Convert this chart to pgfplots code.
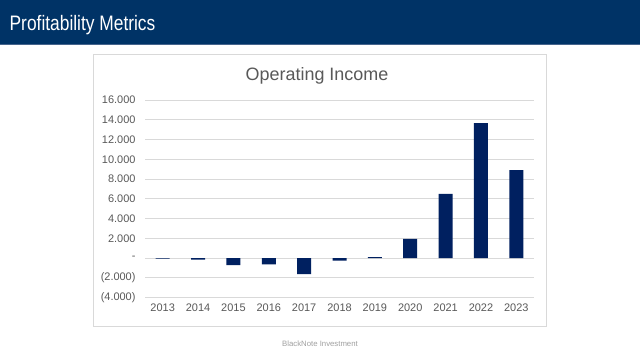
\documentclass[border=0pt]{standalone}
\usepackage{pgfplots}
\pgfplotsset{compat=1.18}
\usepackage{fontspec}
\setmainfont{Liberation Sans}
\definecolor{hdr}{RGB}{0,51,102}
\definecolor{hdrline}{RGB}{70,100,140}
\definecolor{barc}{RGB}{0,32,96}
\definecolor{gridc}{RGB}{217,217,217}
\definecolor{tickc}{RGB}{89,89,89}
\definecolor{footc}{RGB}{160,160,160}
\begin{document}
\begin{tikzpicture}[x=1bp,y=1bp]
\path[use as bounding box, fill=white] (0,0) rectangle (640,360);
\fill[hdr] (0,316) rectangle (640,360);
\draw[hdrline, line width=1bp] (0,315.8) -- (640,315.8);
\draw[gridc, line width=0.9bp] (93,34) rectangle (546,306);
\node[anchor=base west, text=white, font=\fontsize{21}{25}\selectfont, xscale=0.83, inner sep=0] at (9.5,330) {Profitability Metrics};
\node[anchor=base, text=tickc, font=\fontsize{18}{21}\selectfont, inner sep=0] at (317,279.5) {Operating Income};
\node[text=footc, font=\fontsize{7.8}{9}\selectfont] at (320,16.5) {BlackNote Investment};
\begin{axis}[
  at={(145bp,62.3bp)}, anchor=south west,
  scale only axis, width=389bp, height=197.7bp,
  ymin=-4000, ymax=16000, xmin=-0.5, xmax=10.5,
  enlargelimits=false,
  scaled y ticks=false,
  axis line style={draw=none},
  major tick length=0pt,
  ytick={-4000,-2000,0,2000,4000,6000,8000,10000,12000,14000,16000},
  yticklabels={(4.000),(2.000),-,2.000,4.000,6.000,8.000,10.000,12.000,14.000,16.000},
  xtick={0,1,2,3,4,5,6,7,8,9,10},
  xticklabels={2013,2014,2015,2016,2017,2018,2019,2020,2021,2022,2023},
  ymajorgrids,
  grid style={gridc, line width=0.9bp},
  ticklabel style={text=tickc, font=\fontsize{11}{13}\selectfont},
  yticklabel style={xshift=-6bp},
  xticklabel style={yshift=-3bp},
  ybar, bar width=14bp,
]
\addplot[fill=barc, draw=none] coordinates {
(0,-50) (1,-150) (2,-700) (3,-640) (4,-1610) (5,-240) (6,100) (7,1950) (8,6500) (9,13650) (10,8900)
};
\end{axis}
\end{tikzpicture}
\end{document}
